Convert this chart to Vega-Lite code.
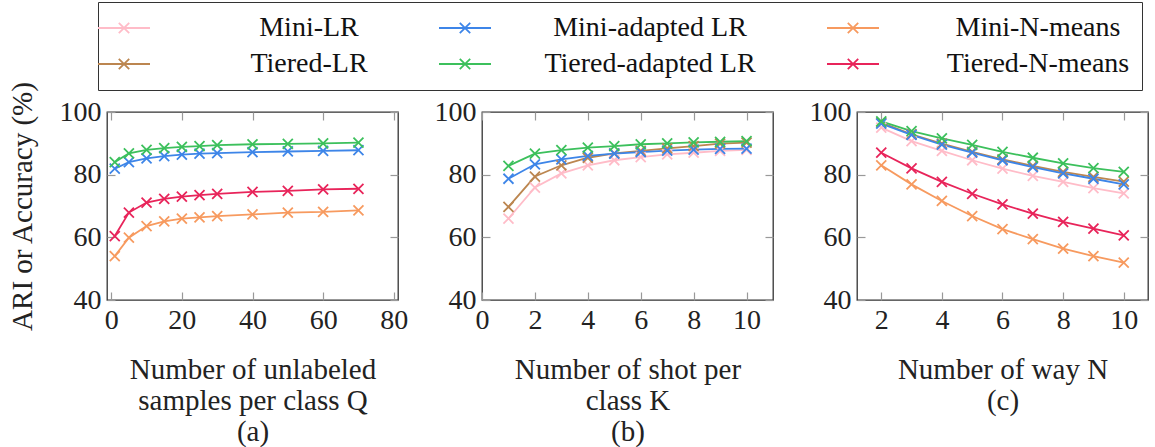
{
  "$schema": "https://vega.github.io/schema/vega-lite/v6.json",
  "background": "white",
  "padding": {"left": 7, "top": 1, "right": 0, "bottom": 0},
  "config": {
    "font": "Liberation Serif",
    "view": {"stroke": "#333", "strokeWidth": 1.3},
    "axis": {
      "labelFont": "Liberation Serif", "labelFontSize": 28, "labelColor": "#222",
      "titleFont": "Liberation Serif", "titleFontSize": 29, "titleFontWeight": "normal", "titleColor": "#222",
      "grid": false, "domain": false, "tickColor": "#999", "tickSize": -8, "tickWidth": 1.2,
      "labelPadding": 14, "labelFlush": false, "labelOverlap": false, "titleLineHeight": 31
    },
    "legend": {"labelFont": "Liberation Serif"}
  },
  "datasets": {
    "d": [
      {"panel": "a", "series": "Mini-N-means", "x": 1, "y": 54.0},
      {"panel": "a", "series": "Mini-N-means", "x": 5, "y": 59.9},
      {"panel": "a", "series": "Mini-N-means", "x": 10, "y": 63.6},
      {"panel": "a", "series": "Mini-N-means", "x": 15, "y": 65.1},
      {"panel": "a", "series": "Mini-N-means", "x": 20, "y": 66.0},
      {"panel": "a", "series": "Mini-N-means", "x": 25, "y": 66.4},
      {"panel": "a", "series": "Mini-N-means", "x": 30, "y": 66.8},
      {"panel": "a", "series": "Mini-N-means", "x": 40, "y": 67.3},
      {"panel": "a", "series": "Mini-N-means", "x": 50, "y": 67.9},
      {"panel": "a", "series": "Mini-N-means", "x": 60, "y": 68.1},
      {"panel": "a", "series": "Mini-N-means", "x": 70, "y": 68.6},
      {"panel": "a", "series": "Tiered-N-means", "x": 1, "y": 60.4},
      {"panel": "a", "series": "Tiered-N-means", "x": 5, "y": 67.9},
      {"panel": "a", "series": "Tiered-N-means", "x": 10, "y": 71.1},
      {"panel": "a", "series": "Tiered-N-means", "x": 15, "y": 72.3},
      {"panel": "a", "series": "Tiered-N-means", "x": 20, "y": 73.0},
      {"panel": "a", "series": "Tiered-N-means", "x": 25, "y": 73.5},
      {"panel": "a", "series": "Tiered-N-means", "x": 30, "y": 73.9},
      {"panel": "a", "series": "Tiered-N-means", "x": 40, "y": 74.5},
      {"panel": "a", "series": "Tiered-N-means", "x": 50, "y": 74.8},
      {"panel": "a", "series": "Tiered-N-means", "x": 60, "y": 75.3},
      {"panel": "a", "series": "Tiered-N-means", "x": 70, "y": 75.5},
      {"panel": "a", "series": "Mini-adapted LR", "x": 1, "y": 81.9},
      {"panel": "a", "series": "Mini-adapted LR", "x": 5, "y": 84.0},
      {"panel": "a", "series": "Mini-adapted LR", "x": 10, "y": 85.2},
      {"panel": "a", "series": "Mini-adapted LR", "x": 15, "y": 85.9},
      {"panel": "a", "series": "Mini-adapted LR", "x": 20, "y": 86.4},
      {"panel": "a", "series": "Mini-adapted LR", "x": 25, "y": 86.7},
      {"panel": "a", "series": "Mini-adapted LR", "x": 30, "y": 86.9},
      {"panel": "a", "series": "Mini-adapted LR", "x": 40, "y": 87.2},
      {"panel": "a", "series": "Mini-adapted LR", "x": 50, "y": 87.4},
      {"panel": "a", "series": "Mini-adapted LR", "x": 60, "y": 87.6},
      {"panel": "a", "series": "Mini-adapted LR", "x": 70, "y": 87.8},
      {"panel": "a", "series": "Tiered-adapted LR", "x": 1, "y": 84.0},
      {"panel": "a", "series": "Tiered-adapted LR", "x": 5, "y": 86.8},
      {"panel": "a", "series": "Tiered-adapted LR", "x": 10, "y": 87.9},
      {"panel": "a", "series": "Tiered-adapted LR", "x": 15, "y": 88.5},
      {"panel": "a", "series": "Tiered-adapted LR", "x": 20, "y": 88.9},
      {"panel": "a", "series": "Tiered-adapted LR", "x": 25, "y": 89.1},
      {"panel": "a", "series": "Tiered-adapted LR", "x": 30, "y": 89.4},
      {"panel": "a", "series": "Tiered-adapted LR", "x": 40, "y": 89.7},
      {"panel": "a", "series": "Tiered-adapted LR", "x": 50, "y": 89.8},
      {"panel": "a", "series": "Tiered-adapted LR", "x": 60, "y": 90.0},
      {"panel": "a", "series": "Tiered-adapted LR", "x": 70, "y": 90.2},

      {"panel": "b", "series": "Mini-LR", "x": 1, "y": 66.0},
      {"panel": "b", "series": "Mini-LR", "x": 2, "y": 75.9},
      {"panel": "b", "series": "Mini-LR", "x": 3, "y": 80.4},
      {"panel": "b", "series": "Mini-LR", "x": 4, "y": 83.0},
      {"panel": "b", "series": "Mini-LR", "x": 5, "y": 84.6},
      {"panel": "b", "series": "Mini-LR", "x": 6, "y": 85.6},
      {"panel": "b", "series": "Mini-LR", "x": 7, "y": 86.5},
      {"panel": "b", "series": "Mini-LR", "x": 8, "y": 87.0},
      {"panel": "b", "series": "Mini-LR", "x": 9, "y": 87.6},
      {"panel": "b", "series": "Mini-LR", "x": 10, "y": 87.9},
      {"panel": "b", "series": "Tiered-LR", "x": 1, "y": 69.7},
      {"panel": "b", "series": "Tiered-LR", "x": 2, "y": 79.4},
      {"panel": "b", "series": "Tiered-LR", "x": 3, "y": 83.0},
      {"panel": "b", "series": "Tiered-LR", "x": 4, "y": 85.4},
      {"panel": "b", "series": "Tiered-LR", "x": 5, "y": 86.8},
      {"panel": "b", "series": "Tiered-LR", "x": 6, "y": 87.6},
      {"panel": "b", "series": "Tiered-LR", "x": 7, "y": 88.4},
      {"panel": "b", "series": "Tiered-LR", "x": 8, "y": 89.1},
      {"panel": "b", "series": "Tiered-LR", "x": 9, "y": 89.9},
      {"panel": "b", "series": "Tiered-LR", "x": 10, "y": 90.2},
      {"panel": "b", "series": "Mini-adapted LR", "x": 1, "y": 78.7},
      {"panel": "b", "series": "Mini-adapted LR", "x": 2, "y": 83.3},
      {"panel": "b", "series": "Mini-adapted LR", "x": 3, "y": 84.9},
      {"panel": "b", "series": "Mini-adapted LR", "x": 4, "y": 86.0},
      {"panel": "b", "series": "Mini-adapted LR", "x": 5, "y": 86.7},
      {"panel": "b", "series": "Mini-adapted LR", "x": 6, "y": 87.2},
      {"panel": "b", "series": "Mini-adapted LR", "x": 7, "y": 87.7},
      {"panel": "b", "series": "Mini-adapted LR", "x": 8, "y": 88.0},
      {"panel": "b", "series": "Mini-adapted LR", "x": 9, "y": 88.2},
      {"panel": "b", "series": "Mini-adapted LR", "x": 10, "y": 88.3},
      {"panel": "b", "series": "Tiered-adapted LR", "x": 1, "y": 82.8},
      {"panel": "b", "series": "Tiered-adapted LR", "x": 2, "y": 86.7},
      {"panel": "b", "series": "Tiered-adapted LR", "x": 3, "y": 87.8},
      {"panel": "b", "series": "Tiered-adapted LR", "x": 4, "y": 88.6},
      {"panel": "b", "series": "Tiered-adapted LR", "x": 5, "y": 89.1},
      {"panel": "b", "series": "Tiered-adapted LR", "x": 6, "y": 89.7},
      {"panel": "b", "series": "Tiered-adapted LR", "x": 7, "y": 90.0},
      {"panel": "b", "series": "Tiered-adapted LR", "x": 8, "y": 90.3},
      {"panel": "b", "series": "Tiered-adapted LR", "x": 9, "y": 90.5},
      {"panel": "b", "series": "Tiered-adapted LR", "x": 10, "y": 90.7},

      {"panel": "c", "series": "Mini-N-means", "x": 2, "y": 83.0},
      {"panel": "c", "series": "Mini-N-means", "x": 3, "y": 76.9},
      {"panel": "c", "series": "Mini-N-means", "x": 4, "y": 71.6},
      {"panel": "c", "series": "Mini-N-means", "x": 5, "y": 66.8},
      {"panel": "c", "series": "Mini-N-means", "x": 6, "y": 62.6},
      {"panel": "c", "series": "Mini-N-means", "x": 7, "y": 59.4},
      {"panel": "c", "series": "Mini-N-means", "x": 8, "y": 56.4},
      {"panel": "c", "series": "Mini-N-means", "x": 9, "y": 54.0},
      {"panel": "c", "series": "Mini-N-means", "x": 10, "y": 51.9},
      {"panel": "c", "series": "Tiered-N-means", "x": 2, "y": 87.0},
      {"panel": "c", "series": "Tiered-N-means", "x": 3, "y": 82.0},
      {"panel": "c", "series": "Tiered-N-means", "x": 4, "y": 77.7},
      {"panel": "c", "series": "Tiered-N-means", "x": 5, "y": 73.9},
      {"panel": "c", "series": "Tiered-N-means", "x": 6, "y": 70.5},
      {"panel": "c", "series": "Tiered-N-means", "x": 7, "y": 67.6},
      {"panel": "c", "series": "Tiered-N-means", "x": 8, "y": 64.9},
      {"panel": "c", "series": "Tiered-N-means", "x": 9, "y": 62.8},
      {"panel": "c", "series": "Tiered-N-means", "x": 10, "y": 60.6},
      {"panel": "c", "series": "Mini-LR", "x": 2, "y": 95.0},
      {"panel": "c", "series": "Mini-LR", "x": 3, "y": 90.7},
      {"panel": "c", "series": "Mini-LR", "x": 4, "y": 87.6},
      {"panel": "c", "series": "Mini-LR", "x": 5, "y": 84.6},
      {"panel": "c", "series": "Mini-LR", "x": 6, "y": 81.9},
      {"panel": "c", "series": "Mini-LR", "x": 7, "y": 79.6},
      {"panel": "c", "series": "Mini-LR", "x": 8, "y": 77.7},
      {"panel": "c", "series": "Mini-LR", "x": 9, "y": 75.7},
      {"panel": "c", "series": "Mini-LR", "x": 10, "y": 74.0},
      {"panel": "c", "series": "Tiered-LR", "x": 2, "y": 96.6},
      {"panel": "c", "series": "Tiered-LR", "x": 3, "y": 92.9},
      {"panel": "c", "series": "Tiered-LR", "x": 4, "y": 89.9},
      {"panel": "c", "series": "Tiered-LR", "x": 5, "y": 87.3},
      {"panel": "c", "series": "Tiered-LR", "x": 6, "y": 84.9},
      {"panel": "c", "series": "Tiered-LR", "x": 7, "y": 82.8},
      {"panel": "c", "series": "Tiered-LR", "x": 8, "y": 80.9},
      {"panel": "c", "series": "Tiered-LR", "x": 9, "y": 79.3},
      {"panel": "c", "series": "Tiered-LR", "x": 10, "y": 77.8},
      {"panel": "c", "series": "Mini-adapted LR", "x": 2, "y": 96.3},
      {"panel": "c", "series": "Mini-adapted LR", "x": 3, "y": 92.7},
      {"panel": "c", "series": "Mini-adapted LR", "x": 4, "y": 89.6},
      {"panel": "c", "series": "Mini-adapted LR", "x": 5, "y": 87.0},
      {"panel": "c", "series": "Mini-adapted LR", "x": 6, "y": 84.6},
      {"panel": "c", "series": "Mini-adapted LR", "x": 7, "y": 82.4},
      {"panel": "c", "series": "Mini-adapted LR", "x": 8, "y": 80.4},
      {"panel": "c", "series": "Mini-adapted LR", "x": 9, "y": 78.7},
      {"panel": "c", "series": "Mini-adapted LR", "x": 10, "y": 76.9},
      {"panel": "c", "series": "Tiered-adapted LR", "x": 2, "y": 97.0},
      {"panel": "c", "series": "Tiered-adapted LR", "x": 3, "y": 93.9},
      {"panel": "c", "series": "Tiered-adapted LR", "x": 4, "y": 91.6},
      {"panel": "c", "series": "Tiered-adapted LR", "x": 5, "y": 89.5},
      {"panel": "c", "series": "Tiered-adapted LR", "x": 6, "y": 87.3},
      {"panel": "c", "series": "Tiered-adapted LR", "x": 7, "y": 85.4},
      {"panel": "c", "series": "Tiered-adapted LR", "x": 8, "y": 83.6},
      {"panel": "c", "series": "Tiered-adapted LR", "x": 9, "y": 82.1},
      {"panel": "c", "series": "Tiered-adapted LR", "x": 10, "y": 80.9}
    ]
  },
  "spacing": 84,
  "bounds": "flush",
  "resolve": {"scale": {"color": "shared"}},
  "hconcat": [
    {
      "width": 291, "height": 188,
      "data": {"name": "d"},
      "transform": [{"filter": "datum.panel == 'a'"}],
      "layer": [
        {
          "mark": {"type": "line", "strokeWidth": 1.8},
          "encoding": {
            "x": {"field": "x", "type": "quantitative", "scale": {"domain": [-1.2, 81.2], "nice": false, "zero": false},
                  "axis": {"orient": "bottom", "values": [0, 20, 40, 60, 80], "title": ["Number of unlabeled", "samples per class Q", "(a)"], "titlePadding": 21}},
            "y": {"field": "y", "type": "quantitative", "scale": {"domain": [40, 100], "nice": false, "zero": false},
                  "axis": {"orient": "left", "values": [40, 60, 80, 100], "title": "ARI or Accuracy (%)", "titlePadding": 22}},
            "color": {"field": "series", "type": "nominal",
                      "scale": {"domain": ["Mini-LR", "Mini-adapted LR", "Mini-N-means", "Tiered-LR", "Tiered-adapted LR", "Tiered-N-means"],
                                "range": ["#ffbcc8", "#3d85e8", "#f79a5f", "#bc8650", "#3cc05c", "#e8245a"]},
                      "legend": {"title": null, "orient": "none", "legendX": -9, "legendY": -110, "direction": "horizontal", "columns": 3,
                                 "symbolType": "M-2,0H2M-0.4,-0.4L0.4,0.4M-0.4,0.4L0.4,-0.4", "symbolSize": 676, "symbolStrokeWidth": 1.8,
                                 "labelFontSize": 28, "labelColor": "#111", "labelLimit": 400, "labelAlign": "center",
                                 "labelOffset": 171, "columnPadding": 67, "rowPadding": 8, "padding": 12, "strokeColor": "#333"}}
          }
        },
        {
          "mark": {"type": "point", "shape": "M-1,-1L1,1M-1,1L1,-1", "filled": false, "size": 100, "strokeWidth": 1.8, "opacity": 1},
          "encoding": {
            "x": {"field": "x", "type": "quantitative", "axis": {"orient": "top", "values": [0, 20, 40, 60, 80], "labels": false, "title": null}},
            "y": {"field": "y", "type": "quantitative", "axis": {"orient": "right", "values": [40, 60, 80, 100], "labels": false, "title": null}},
            "color": {"field": "series", "type": "nominal"}
          }
        }
      ],
      "resolve": {"axis": {"x": "independent", "y": "independent"}}
    },
    {
      "width": 291, "height": 188,
      "data": {"name": "d"},
      "transform": [{"filter": "datum.panel == 'b'"}],
      "layer": [
        {
          "mark": {"type": "line", "strokeWidth": 1.8},
          "encoding": {
            "x": {"field": "x", "type": "quantitative", "scale": {"domain": [0, 11], "nice": false, "zero": false},
                  "axis": {"orient": "bottom", "values": [0, 2, 4, 6, 8, 10], "title": ["Number of shot per", "class K", "(b)"], "titlePadding": 21}},
            "y": {"field": "y", "type": "quantitative", "scale": {"domain": [40, 100], "nice": false, "zero": false},
                  "axis": {"orient": "left", "values": [40, 60, 80, 100], "title": null}},
            "color": {"field": "series", "type": "nominal"}
          }
        },
        {
          "mark": {"type": "point", "shape": "M-1,-1L1,1M-1,1L1,-1", "filled": false, "size": 100, "strokeWidth": 1.8, "opacity": 1},
          "encoding": {
            "x": {"field": "x", "type": "quantitative", "axis": {"orient": "top", "values": [0, 2, 4, 6, 8, 10], "labels": false, "title": null}},
            "y": {"field": "y", "type": "quantitative", "axis": {"orient": "right", "values": [40, 60, 80, 100], "labels": false, "title": null}},
            "color": {"field": "series", "type": "nominal"}
          }
        }
      ],
      "resolve": {"axis": {"x": "independent", "y": "independent"}}
    },
    {
      "width": 291, "height": 188,
      "data": {"name": "d"},
      "transform": [{"filter": "datum.panel == 'c'"}],
      "layer": [
        {
          "mark": {"type": "line", "strokeWidth": 1.8},
          "encoding": {
            "x": {"field": "x", "type": "quantitative", "scale": {"domain": [1.2, 10.8], "nice": false, "zero": false},
                  "axis": {"orient": "bottom", "values": [2, 4, 6, 8, 10], "title": ["Number of way N", "(c)"], "titlePadding": 21}},
            "y": {"field": "y", "type": "quantitative", "scale": {"domain": [40, 100], "nice": false, "zero": false},
                  "axis": {"orient": "left", "values": [40, 60, 80, 100], "title": null}},
            "color": {"field": "series", "type": "nominal"}
          }
        },
        {
          "mark": {"type": "point", "shape": "M-1,-1L1,1M-1,1L1,-1", "filled": false, "size": 100, "strokeWidth": 1.8, "opacity": 1},
          "encoding": {
            "x": {"field": "x", "type": "quantitative", "axis": {"orient": "top", "values": [2, 4, 6, 8, 10], "labels": false, "title": null}},
            "y": {"field": "y", "type": "quantitative", "axis": {"orient": "right", "values": [40, 60, 80, 100], "labels": false, "title": null}},
            "color": {"field": "series", "type": "nominal"}
          }
        }
      ],
      "resolve": {"axis": {"x": "independent", "y": "independent"}}
    }
  ]
}
